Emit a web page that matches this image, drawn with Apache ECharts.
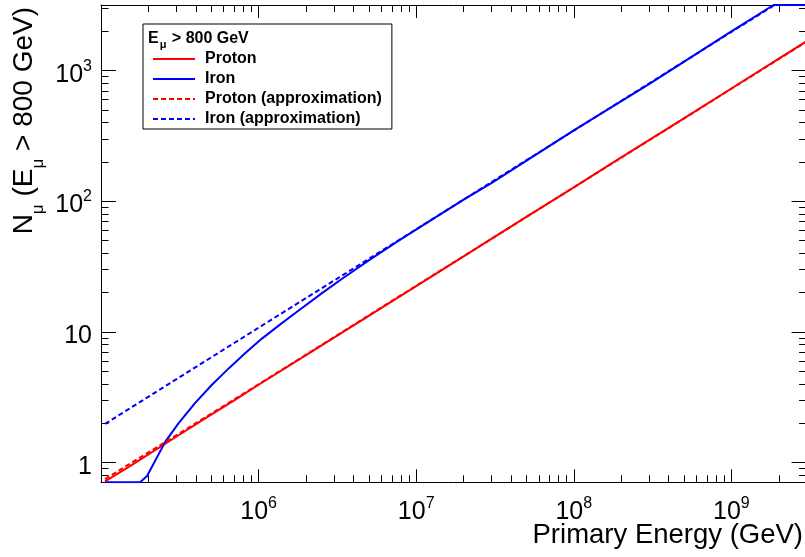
<!DOCTYPE html>
<html>
<head>
<meta charset="utf-8">
<script src="https://cdn.jsdelivr.net/npm/echarts@6/dist/echarts.min.js"></script>
<style>
html,body{margin:0;padding:0;background:#fff;}
#chart{width:805px;height:557px;}
</style>
</head>
<body>
<div id="chart"></div>
<script>
// ---------------- data ----------------
const seriesNames = ['Proton', 'Iron', 'Proton (approximation)', 'Iron (approximation)'];

const protonE = [1.06e5, 1.5e5, 2e5, 3e5, 5e5, 7e5, 1e6, 2e6, 5e6, 1e7, 2e7, 5e7, 1e8, 2e8, 5e8, 1e9, 2e9, 3e9];
const protonN = [0.72, 0.93, 1.16, 1.58, 2.33, 3.0, 3.95, 6.65, 13.3, 22.5, 38, 76, 128, 217, 432, 731, 1236, 1680];

const ironE = [1.06e5, 1.77e5, 1.96e5, 2.56e5, 3.1e5, 3.96e5, 5.06e5, 6.46e5, 8.24e5, 1.05e6, 1.34e6, 1.71e6, 2.5e6, 3.44e6, 5e6, 7.92e6, 1.2e7, 2e7, 3e7, 1e8, 3e8, 1e9, 1.85e9, 3e9];
const ironN = [0.708, 0.708, 0.79, 1.45, 2.0, 2.87, 3.95, 5.27, 6.92, 8.91, 11.2, 14.0, 19.7, 25.9, 35.4, 51.0, 70.0, 103, 138, 350, 790, 2000, 3185, 3185];

const protonApproxE = [1.06e5, 3e5, 1e6, 1e7, 1e8, 1e9, 3e9];
const protonApproxN = [0.75, 1.62, 3.98, 22.6, 128, 728, 1670];

const ironApproxE = [1.06e5, 1e6, 1e7, 1e8, 1e9, 1.88e9, 3e9];
const ironApproxN = [1.98, 10.8, 61.2, 348, 1982, 3185, 3185];

const xRange = [1e5, 3e9];
const yRange = [0.708, 3185];

const xMajorTicks = [1e6, 1e7, 1e8, 1e9];
const xMinorTicks = [2e5,3e5,4e5,5e5,6e5,7e5,8e5,9e5, 2e6,3e6,4e6,5e6,6e6,7e6,8e6,9e6, 2e7,3e7,4e7,5e7,6e7,7e7,8e7,9e7, 2e8,3e8,4e8,5e8,6e8,7e8,8e8,9e8, 2e9];
const yMajorTicks = [1, 10, 100, 1000];
const yMinorTicks = [0.8,0.9, 2,3,4,5,6,7,8,9, 20,30,40,50,60,70,80,90, 200,300,400,500,600,700,800,900, 2000,3000];

// ---------------- styling ----------------
const FONT = '"Liberation Sans", Arial, Helvetica, sans-serif';
const pairs = (xs, ys) => xs.map((x, i) => [x, ys[i]]);

function powLabel(v) {
  const e = Math.round(Math.log10(v));
  if (e === 0) return '{m|1}';
  if (e === 1) return '{m|10}';
  return '{m|10}{s|' + e + '}';
}
const labelRich = {
  m: {fontSize: 25, fontFamily: FONT, color: '#000', lineHeight: 25, padding: [4, 0, 0, 0], verticalAlign: 'top'},
  s: {fontSize: 16, fontFamily: FONT, color: '#000', lineHeight: 16, verticalAlign: 'top'}
};

function makeAxis(kind, position, ticks, len, withLine, withLabels, margin) {
  return {
    type: 'log', logBase: 10,
    min: kind === 'x' ? xRange[0] : yRange[0],
    max: kind === 'x' ? xRange[1] : yRange[1],
    position: position,
    axisLine: {show: withLine, onZero: false, lineStyle: {color: '#000', width: 1}},
    axisTick: {show: true, inside: true, length: len, customValues: ticks, lineStyle: {color: '#000', width: 1}},
    minorTick: {show: false},
    splitLine: {show: false},
    axisLabel: withLabels ? {
      show: true, customValues: ticks, margin: margin, formatter: powLabel, rich: labelRich,
      color: '#000', hideOverlap: false
    } : {show: false},
    axisPointer: {show: false},
    silent: true
  };
}

const chart = echarts.init(document.getElementById('chart'), null, {renderer: 'canvas'});

function lineSeries(name, data, color, dashed, z) {
  return {
    name: name, type: 'line', data: data, xAxisIndex: 0, yAxisIndex: 0,
    symbol: 'none', showSymbol: false, smooth: false, clip: true, z: z,
    lineStyle: {color: color, width: 2, type: dashed ? [5, 3] : 'solid'},
    itemStyle: {color: color},
    emphasis: {disabled: true}, silent: true, animation: false
  };
}

const option = {
  animation: false,
  backgroundColor: '#fff',
  grid: {left: 101, top: 5, right: -1.6, bottom: 74.7, containLabel: false, outerBoundsMode: 'none'},
  xAxis: [
    makeAxis('x', 'bottom', xMajorTicks, 13, true, true, 13),
    makeAxis('x', 'bottom', xMinorTicks, 7, false, false),
    makeAxis('x', 'top', xMajorTicks, 13, true, false),
    makeAxis('x', 'top', xMinorTicks, 7, false, false)
  ],
  yAxis: [
    makeAxis('y', 'left', yMajorTicks, 15, true, true, 9),
    makeAxis('y', 'left', yMinorTicks, 7.5, false, false),
    makeAxis('y', 'right', yMajorTicks, 15, true, false),
    makeAxis('y', 'right', yMinorTicks, 7.5, false, false)
  ],
  legend: {
    show: true, orient: 'vertical', left: 143, top: 24,
    padding: [27, 10, 2, 9],
    itemWidth: 42, itemHeight: 20, itemGap: 4,
    backgroundColor: '#fff', borderColor: '#000', borderWidth: 1, borderRadius: 0,
    selectedMode: false,
    itemStyle: {opacity: 0},
    data: seriesNames,
    textStyle: {fontSize: 16, fontWeight: 'bold', fontFamily: FONT, color: '#000', padding: [0, 0, 0, 5]}
  },
  series: [
    lineSeries(seriesNames[0], pairs(protonE, protonN), '#ff0000', false, 2),
    lineSeries(seriesNames[1], pairs(ironE, ironN), '#0000ff', false, 3),
    lineSeries(seriesNames[2], pairs(protonApproxE, protonApproxN), '#ff0000', true, 4),
    lineSeries(seriesNames[3], pairs(ironApproxE, ironApproxN), '#0000ff', true, 5)
  ],
  graphic: [
    {
      type: 'text', x: 803, y: 535, silent: true,
      style: {text: 'Primary Energy (GeV)', font: '27.5px ' + FONT, fill: '#000', textAlign: 'right', textVerticalAlign: 'middle'}
    },
    {
      type: 'text', x: 10.4, y: 7, rotation: Math.PI / 2, silent: true,
      style: {
        text: '{m|N}{s|μ}{m| (E}{s|μ}{m| > 800 GeV)}',
        textAlign: 'right', textVerticalAlign: 'top',
        rich: {
          m: {fontSize: 28, fontFamily: FONT, fill: '#000', lineHeight: 28, verticalAlign: 'top'},
          s: {fontSize: 17, fontFamily: FONT, fill: '#000', lineHeight: 17, padding: [19, 0, 0, 0], verticalAlign: 'top'}
        }
      }
    },
    {
      type: 'text', x: 148, y: 30.5, silent: true, z: 100,
      style: {
        text: '{m|E}{s|μ}{m| > 800 GeV}',
        textAlign: 'left', textVerticalAlign: 'top',
        rich: {
          m: {fontSize: 16, fontWeight: 'bold', fontFamily: FONT, fill: '#000', lineHeight: 16, verticalAlign: 'top'},
          s: {fontSize: 11, fontWeight: 'bold', fontFamily: FONT, fill: '#000', lineHeight: 11, padding: [9, 1, 0, 1], verticalAlign: 'top'}
        }
      }
    }
  ]
};
chart.setOption(option);
</script>
</body>
</html>
